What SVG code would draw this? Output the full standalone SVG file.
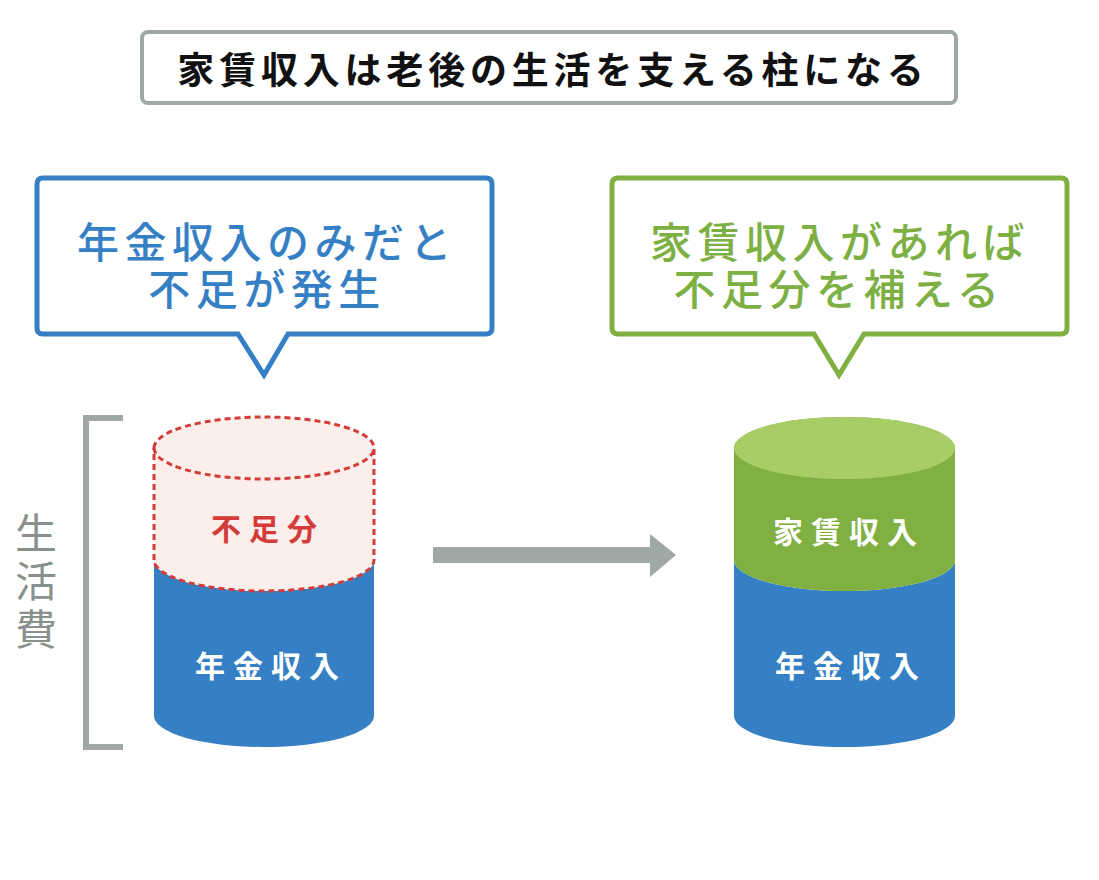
<svg xmlns="http://www.w3.org/2000/svg" width="1099" height="880" viewBox="0 0 1099 880">
<style>
text{font-family:"Noto Sans CJK JP","Noto Sans",sans-serif;text-anchor:middle}
.title{font-size:37px;font-weight:700;fill:#111;letter-spacing:4.8px}
.bub{font-size:42px;font-weight:500;letter-spacing:5.5px}
.lbl{font-size:30px;font-weight:700;fill:#fff;letter-spacing:8px}
.side{font-size:42px;font-weight:400;fill:#8a918d}
</style>
<rect width="1099" height="880" fill="#fff"/>
<g id="title">
<rect x="142" y="32" width="814" height="71" rx="6" fill="#fff" stroke="#a0a8a4" stroke-width="4"/>
<text class="title" x="553" y="84">家賃収入は老後の生活を支える柱になる</text>
</g>
<g id="bubble-left">
<path d="M43 178 H486 Q492 178 492 184 V328 Q492 334 486 334 H288 L264 375 L238 334 H43 Q37 334 37 328 V184 Q37 178 43 178 Z" fill="#fff" stroke="#3580c4" stroke-width="5" stroke-linejoin="miter"/>
<text class="bub" x="267" y="258" fill="#3580c4">年金収入のみだと</text>
<text class="bub" x="267" y="305" fill="#3580c4">不足が発生</text>
</g>
<g id="bubble-right">
<path d="M618 178 H1061 Q1067 178 1067 184 V328 Q1067 334 1061 334 H864 L839 375 L814 334 H618 Q612 334 612 328 V184 Q612 178 618 178 Z" fill="#fff" stroke="#80b042" stroke-width="5" stroke-linejoin="miter"/>
<text class="bub" x="840" y="258" fill="#7db043">家賃収入があれば</text>
<text class="bub" x="839" y="305" fill="#7db043">不足分を補える</text>
</g>
<g id="bracket">
<path d="M123 418 H86 V747 H123" fill="none" stroke="#a0a8a4" stroke-width="6"/>
<text class="side" x="36" y="549">生</text>
<text class="side" x="36" y="597">活</text>
<text class="side" x="36" y="645">費</text>
</g>
<g id="cylinder-left">
<path d="M154 560 A110 31 0 0 0 374 560 V716 A110 31 0 0 1 154 716 Z" fill="#3580c4"/>
<path d="M154 448 A110 31 0 0 1 374 448 V560 A110 31 0 0 1 154 560 Z" fill="#fcefeb" stroke="#d43c3a" stroke-width="3" stroke-dasharray="6 4"/>
<path d="M154 448 A110 31 0 0 0 374 448" fill="none" stroke="#d43c3a" stroke-width="3" stroke-dasharray="6 4"/>
<text class="lbl" x="268" y="540" style="fill:#d43c3a">不足分</text>
<text class="lbl" x="271" y="677">年金収入</text>
</g>
<g id="cylinder-right">
<path d="M734 560 A110.5 31 0 0 0 955 560 V716 A110.5 31 0 0 1 734 716 Z" fill="#3580c4"/>
<path d="M734 448 A110.5 31 0 0 1 955 448 V560 A110.5 31 0 0 1 734 560 Z" fill="#80b042"/>
<ellipse cx="844.5" cy="448" rx="110.5" ry="31" fill="#a9cd66"/>
<text class="lbl" x="849" y="543">家賃収入</text>
<text class="lbl" x="851" y="677">年金収入</text>
</g>
<g id="connectors">
<path d="M433 547 H650 V534 L676 555 L650 577 V563 H433 Z" fill="#a0a8a4"/>
</g>
</svg>
